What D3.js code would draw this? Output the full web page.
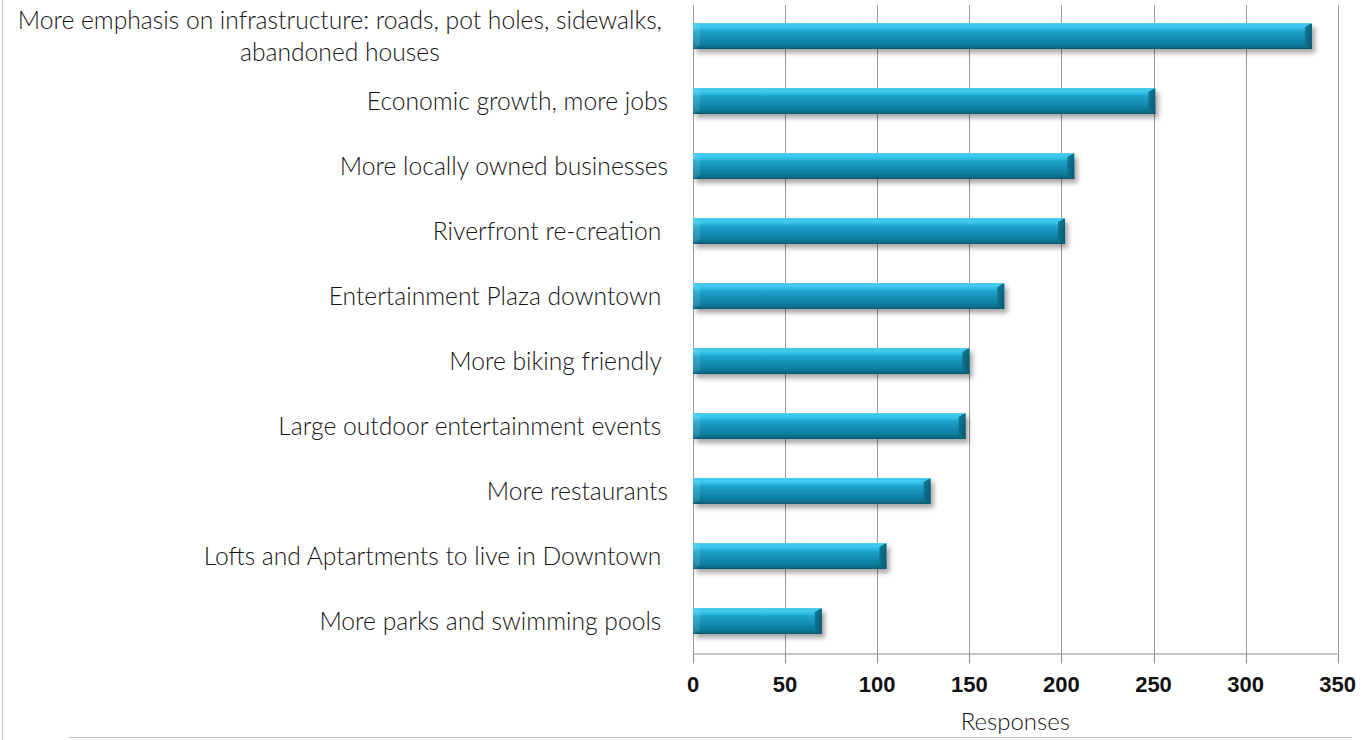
<!DOCTYPE html>
<html>
<head>
<meta charset="utf-8">
<script src="https://cdn.jsdelivr.net/npm/d3@7"></script>
<style>
  html, body { margin: 0; padding: 0; background: #fff; }
  svg { display: block; }
  .cat { font-family: "Lato Light", Lato, "Open Sans", sans-serif; font-weight: 300; fill: #151515; white-space: pre; }
  .tick-label { font-family: "Liberation Sans Narrow", "Liberation Sans", sans-serif; font-weight: bold; font-size: 22px; fill: #111; }
  .axis-title { font-family: "Lato Light", Lato, "Open Sans", sans-serif; font-weight: 300; fill: #151515; }
</style>
</head>
<body>
<svg id="chart" width="1369" height="740"></svg>
<script>
// Survey answers, top to bottom
const categories = [
  "More emphasis on infrastructure: roads, pot holes, sidewalks,\nabandoned houses",
  "Economic growth, more jobs",
  "More locally owned businesses",
  "Riverfront re-creation ",
  "Entertainment Plaza downtown ",
  "More biking friendly ",
  "Large outdoor entertainment events ",
  "More restaurants",
  "Lofts and Aptartments to live in Downtown ",
  "More parks and swimming pools "
];
const responses = [336, 251, 207, 202, 169, 150, 148, 129, 105, 70];
const tickValues = [0, 50, 100, 150, 200, 250, 300, 350];
const axisTitle = "Responses";

const svg = d3.select("#chart");
const W = 1369, H = 740;

const plot = { left: 693, right: 1337.7, top: 3.5, bottom: 653.5 };

const x = d3.scaleLinear().domain([0, 350]).range([plot.left, plot.right]);
const y = d3.scaleBand().domain(categories).range([plot.top, plot.bottom])
  .paddingInner(0.6).paddingOuter(0.3);

// ---- defs: bar gradient, bevel shades, shadow
const defs = svg.append("defs");
const grad = defs.append("linearGradient").attr("id", "barFill")
  .attr("x1", 0).attr("y1", 0).attr("x2", 0).attr("y2", 1);
[
  [0, "#2aaed2"], [0.08, "#45cdf0"], [0.2, "#34bfe6"], [0.32, "#1ea3ca"],
  [0.55, "#1590b6"], [0.8, "#0d7e9f"], [0.92, "#0a6d8a"], [1, "#08566d"]
].forEach(([o, c]) => grad.append("stop").attr("offset", o).attr("stop-color", c));

const rgrad = defs.append("linearGradient").attr("id", "bevelRight")
  .attr("x1", 0).attr("y1", 0).attr("x2", 1).attr("y2", 0);
rgrad.append("stop").attr("offset", 0).attr("stop-color", "#0b6f8d");
rgrad.append("stop").attr("offset", 1).attr("stop-color", "#07536a");

const shadow = defs.append("filter").attr("id", "barShadow")
  .attr("x", "-5%").attr("y", "-40%").attr("width", "115%").attr("height", "200%");
shadow.append("feDropShadow").attr("dx", 3).attr("dy", 4).attr("stdDeviation", 2.5)
  .attr("flood-color", "#000").attr("flood-opacity", 0.35);

// ---- outer frame pieces
svg.append("line").attr("x1", 2.5).attr("x2", 2.5).attr("y1", 0).attr("y2", H)
  .attr("stroke", "#c4c4c4").attr("stroke-width", 1);
svg.append("line").attr("x1", 69).attr("x2", 1352).attr("y1", 737.5).attr("y2", 737.5)
  .attr("stroke", "#c4c4c4").attr("stroke-width", 1);

// ---- vertical gridlines
svg.append("g").selectAll("line").data(tickValues).join("line")
  .attr("x1", d => Math.round(x(d)) + 0.5).attr("x2", d => Math.round(x(d)) + 0.5)
  .attr("y1", plot.top + 1.5).attr("y2", plot.bottom)
  .attr("stroke", "#9a9a9a").attr("stroke-width", 1);

// ---- x axis
const xAxis = d3.axisBottom(x).tickValues(tickValues).tickSize(10).tickPadding(13)
  .tickFormat(d3.format("d")).offset(0);
const gx = svg.append("g").attr("transform", `translate(0,${Math.round(plot.bottom) - 0.5})`).call(xAxis);
gx.select(".domain").attr("stroke", "#8a8a8a").attr("d", `M${plot.left},0.5H${plot.right}`);
gx.selectAll(".tick line").attr("stroke", "#8a8a8a")
  .attr("transform", d => `translate(${Math.round(x(d)) + 0.5 - x(d)},0)`);
gx.selectAll(".tick text").attr("class", "tick-label").attr("fill", null);

svg.append("text").attr("class", "axis-title")
  .attr("x", (plot.left + plot.right) / 2).attr("y", 730)
  .attr("text-anchor", "middle").style("font-size", "24px").text(axisTitle);

// ---- bars
const bars = svg.append("g").selectAll("g").data(categories).join("g")
  .attr("filter", "url(#barShadow)");
bars.append("rect")
  .attr("x", x(0)).attr("y", d => y(d))
  .attr("width", (d, i) => x(responses[i]) - x(0)).attr("height", y.bandwidth())
  .attr("fill", "url(#barFill)");
// right bevel
bars.append("path").attr("d", (d, i) => {
  const x1 = x(responses[i]), y0 = y(d), y1 = y(d) + y.bandwidth(), b = 7;
  return `M${x1 - b},${y0 + 4}L${x1},${y0}L${x1},${y1}L${x1 - b},${y1 - 4}Z`;
}).attr("fill", "url(#bevelRight)").attr("opacity", 0.85);
// left bevel
bars.append("path").attr("d", d => {
  const x0 = x(0), y0 = y(d), y1 = y(d) + y.bandwidth(), b = 7;
  return `M${x0},${y0}L${x0 + b},${y0 + 4}L${x0 + b},${y1 - 4}L${x0},${y1}Z`;
}).attr("fill", "#ffffff").attr("opacity", 0.12);
// thin bright top edge
bars.append("rect")
  .attr("x", x(0)).attr("y", d => y(d))
  .attr("width", (d, i) => x(responses[i]) - x(0)).attr("height", 1)
  .attr("fill", "#63d6f3").attr("opacity", 0.7);

// ---- category labels (font sized so the long rows span the label column)
const labelRight = 668;
const probe = svg.append("text").attr("class", "cat").style("font-size", "20px")
  .text("Lofts and Aptartments to live in Downtown");
const fs = 20 * 458 / probe.node().getComputedTextLength();
probe.remove();

const labels = svg.append("g");
categories.forEach(c => {
  const lines = c.split("\n");
  const cy = y(c) + y.bandwidth() / 2;
  if (lines.length === 1) {
    labels.append("text").attr("class", "cat").attr("xml:space", "preserve")
      .style("font-size", fs + "px")
      .attr("x", labelRight).attr("y", cy).attr("dy", "0.36em")
      .attr("text-anchor", "end").text(lines[0]);
  } else {
    const t = labels.append("text").attr("class", "cat").style("font-size", fs + "px")
      .attr("text-anchor", "middle");
    const spans = lines.map((ln, k) => t.append("tspan")
      .attr("y", cy + (k - (lines.length - 1) / 2) * 32).attr("dy", "0.36em").text(ln));
    const w = d3.max(spans, s => s.node().getComputedTextLength());
    spans.forEach(s => s.attr("x", labelRight - 6 - w / 2));
  }
});
</script>
</body>
</html>
